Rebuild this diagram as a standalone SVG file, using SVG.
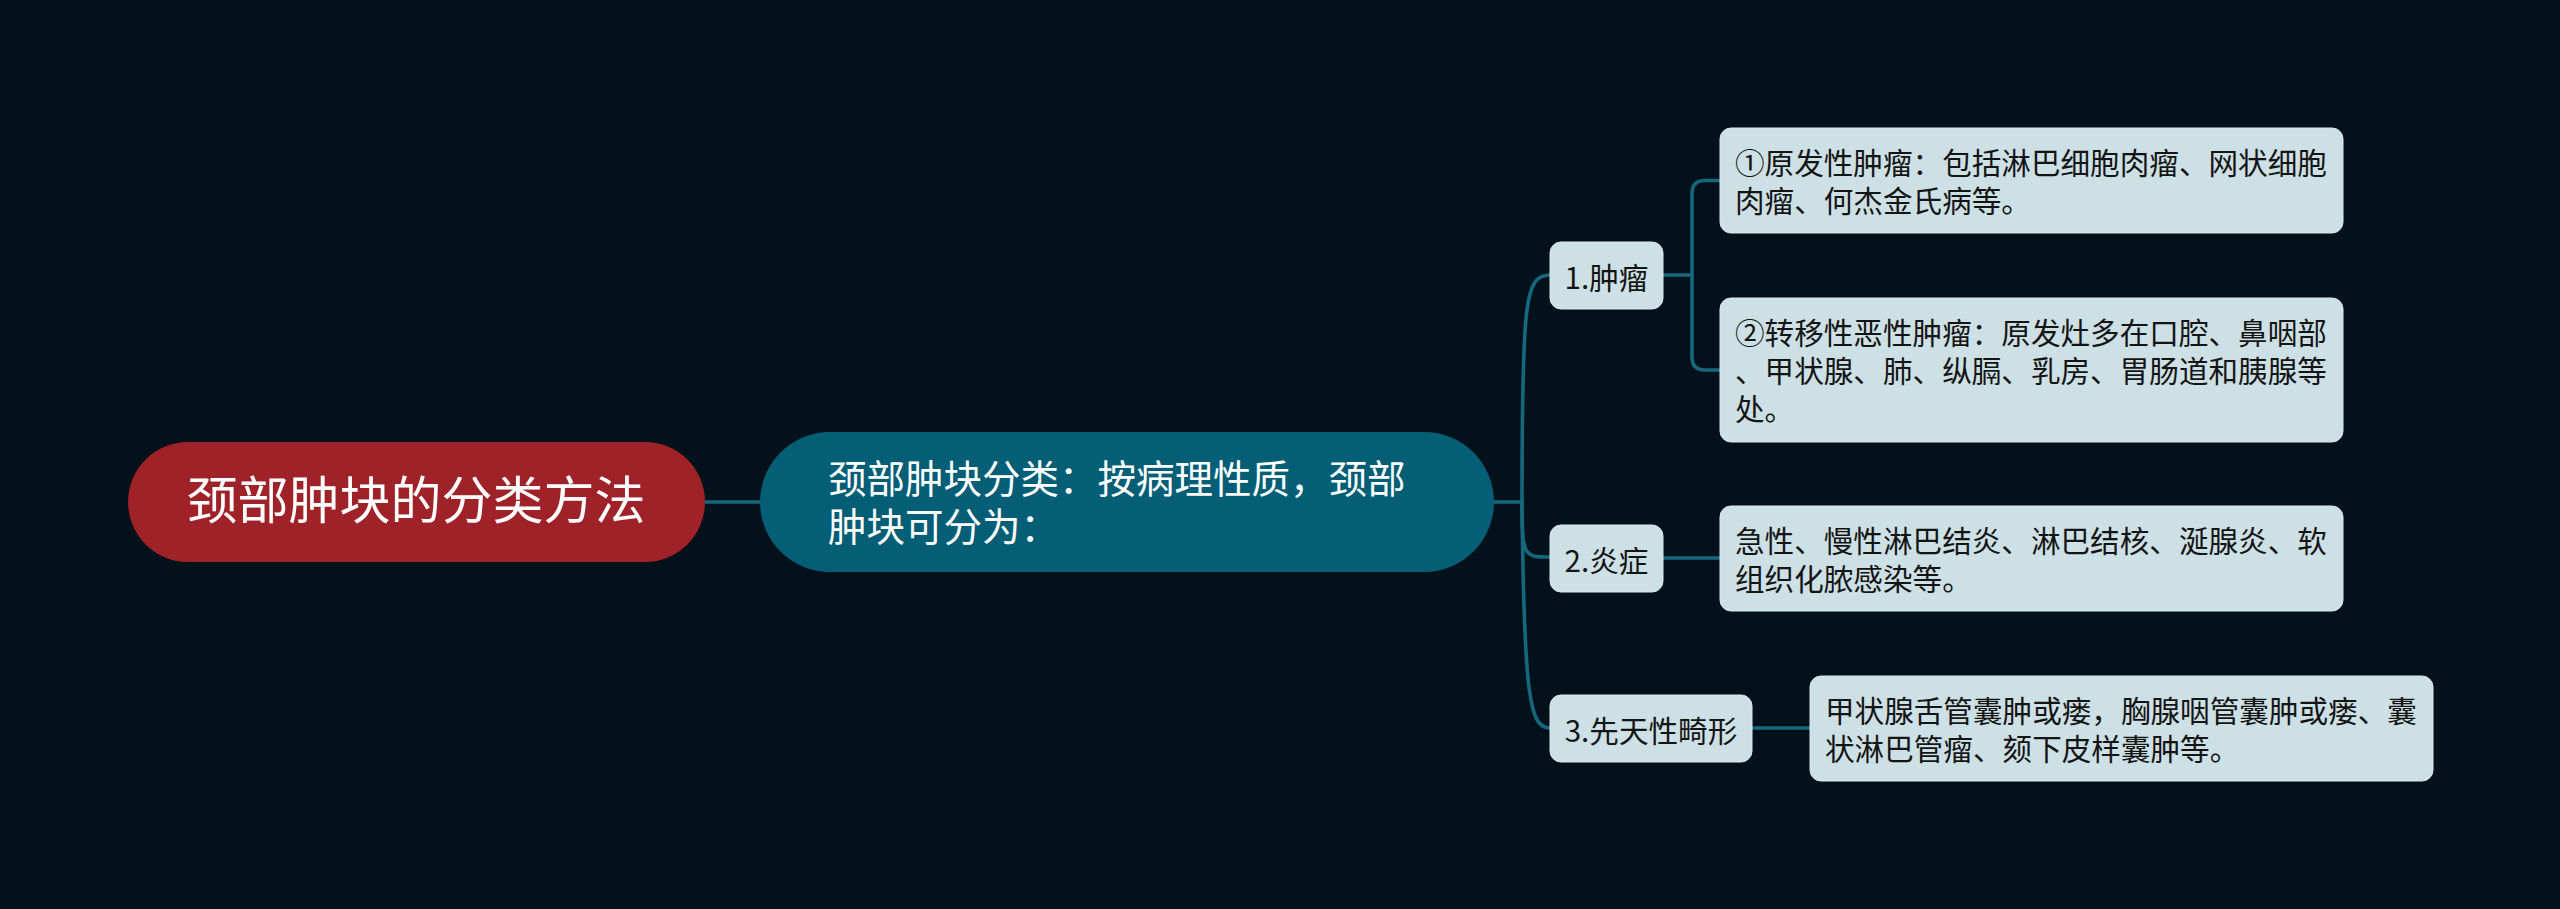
<svg xmlns="http://www.w3.org/2000/svg" width="2560" height="909" viewBox="0 0 2560 909">
<style>
text{font-family:"Noto Sans CJK SC","Noto Sans",sans-serif;}
.bg{fill:#03111a;}
.root{fill:#9e2228;}
.main{fill:#035e76;}
.leaf{fill:#cde0e5;stroke:#dbe9ec;stroke-width:1;}
.tw{fill:#ffffff;}
.td{fill:#141414;font-size:29.6px;}
.conn path{fill:none;stroke:#16687e;stroke-width:3.6;stroke-linecap:round;}
</style>
<rect class="bg" x="0" y="0" width="2560" height="909"/>
<g id="connectors" class="conn">
<path d="M705,502 L760,502"/>
<path d="M1494,502 L1522,502"/>
<path d="M1522,502 C1522,300 1525,275 1550,275"/>
<path d="M1522,502 C1522,557 1524,557 1550,557"/>
<path d="M1522,502 C1524,700 1530,728 1550,728"/>
<path d="M1663,275 L1692,275"/>
<path d="M1720,180.5 L1705,180.5 Q1692,180.5 1692,193.5 L1692,357 Q1692,370 1705,370 L1720,370"/>
<path d="M1663,558 L1720,558"/>
<path d="M1752,728 L1810,728"/>
</g>
<g id="root">
<rect class="root" x="128" y="442" width="577" height="120" rx="60"/>
<text class="tw" x="416" y="519" font-size="51" text-anchor="middle">颈部肿块的分类方法</text>
</g>
<g id="main">
<rect class="main" x="760" y="432" width="734" height="140" rx="70"/>
<text class="tw" font-size="38.5" x="828" y="492.5">颈部肿块分类：按病理性质，颈部</text>
<text class="tw" font-size="38.5" x="828" y="540.5">肿块可分为：</text>
</g>
<g id="n1">
<rect class="leaf" x="1550" y="242" width="113" height="67" rx="11"/>
<text class="td" x="1606.5" y="289" text-anchor="middle">1.肿瘤</text>
</g>
<g id="n1a">
<rect class="leaf" x="1720" y="128" width="623" height="105" rx="11"/>
<text class="td"><tspan x="1735" y="174">①原发性肿瘤：包括淋巴细胞肉瘤、网状细胞</tspan><tspan x="1735" y="212">肉瘤、何杰金氏病等。</tspan></text>
</g>
<g id="n1b">
<rect class="leaf" x="1720" y="298" width="623" height="144" rx="11"/>
<text class="td"><tspan x="1735" y="344">②转移性恶性肿瘤：原发灶多在口腔、鼻咽部</tspan><tspan x="1735" y="382">、甲状腺、肺、纵膈、乳房、胃肠道和胰腺等</tspan><tspan x="1735" y="420">处。</tspan></text>
</g>
<g id="n2">
<rect class="leaf" x="1550" y="525" width="113" height="67" rx="11"/>
<text class="td" x="1606.5" y="571.5" text-anchor="middle">2.炎症</text>
</g>
<g id="n2a">
<rect class="leaf" x="1720" y="506" width="623" height="105" rx="11"/>
<text class="td"><tspan x="1735" y="552">急性、慢性淋巴结炎、淋巴结核、涎腺炎、软</tspan><tspan x="1735" y="590">组织化脓感染等。</tspan></text>
</g>
<g id="n3">
<rect class="leaf" x="1550" y="695" width="202" height="67" rx="11"/>
<text class="td" x="1651" y="742" text-anchor="middle">3.先天性畸形</text>
</g>
<g id="n3a">
<rect class="leaf" x="1810" y="676" width="623" height="105" rx="11"/>
<text class="td"><tspan x="1825" y="722">甲状腺舌管囊肿或瘘，胸腺咽管囊肿或瘘、囊</tspan><tspan x="1825" y="760">状淋巴管瘤、颏下皮样囊肿等。</tspan></text>
</g>
</svg>
